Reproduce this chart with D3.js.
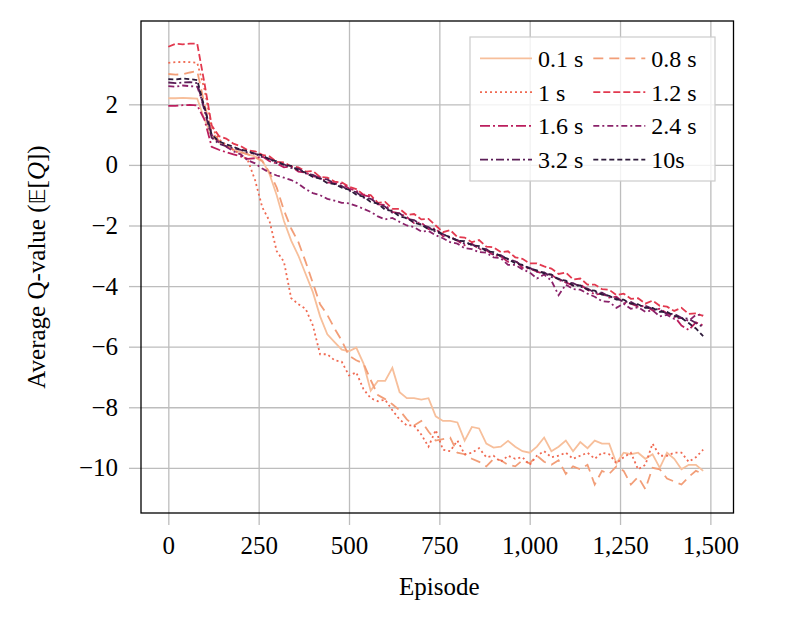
<!DOCTYPE html>
<html>
<head>
<meta charset="utf-8">
<script src="https://cdn.jsdelivr.net/npm/d3@7"></script>
<style>
  body { margin: 0; background: #fff; }
  svg text { font-family: "Liberation Serif", "DejaVu Serif", serif; fill: #000; }
</style>
</head>
<body>
<div id="chart"></div>
<script>
// episodes sampled every 20
const episodes = [
  0, 20, 40, 60, 80, 100, 120, 140, 160, 180, 200, 220, 240, 260, 280,
  300, 320, 340, 360, 380, 400, 420, 440, 460, 480, 500, 520, 540, 560, 580,
  600, 620, 640, 660, 680, 700, 720, 740, 760, 780, 800, 820, 840, 860, 880,
  900, 920, 940, 960, 980, 1000, 1020, 1040, 1060, 1080, 1100, 1120, 1140, 1160, 1180,
  1200, 1220, 1240, 1260, 1280, 1300, 1320, 1340, 1360, 1380, 1400, 1420, 1440, 1460, 1480
];

const seriesNames = ["0.1 s", "0.8 s", "1 s", "1.2 s", "1.6 s", "2.4 s", "3.2 s", "10s"];

const q01 = [
  2.2, 2.2, 2.21, 2.2, 2.19, 1.5, 0.95, 0.75, 0.6, 0.5, 0.42, 0.35, 0.28, 0.15, -0.3,
  -1.0, -1.85, -2.5, -3.0, -3.6, -4.2, -5.0, -5.59, -5.85, -6.1, -6.15, -6.03, -6.55, -7.45, -7.13,
  -7.13, -6.7, -7.5, -7.7, -7.7, -7.75, -7.7, -8.3, -8.45, -8.45, -8.5, -9.1, -8.65, -8.7, -9.2,
  -9.33, -9.3, -9.11, -9.3, -9.45, -9.5, -9.3, -9.0, -9.45, -9.3, -9.1, -9.45, -9.15, -9.35, -9.1,
  -9.2, -9.2, -9.85, -9.5, -9.55, -9.5, -9.7, -9.55, -10.0, -9.5, -9.7, -10.05, -9.9, -9.9, -10.1
];
const q08 = [
  3.0, 2.98, 2.99, 3.05, 3.1, 2.0, 1.1, 0.8, 0.62, 0.5, 0.42, 0.35, 0.25, 0.12, -0.25,
  -0.75, -1.5, -2.1, -2.55, -3.2, -3.9, -4.6, -4.95, -5.4, -5.8, -6.3, -6.45, -6.55, -7.1, -7.6,
  -7.73, -7.9, -8.1, -8.4, -8.6, -8.45, -8.8, -9.1, -9.05, -9.0, -9.5, -9.55, -9.7, -9.8, -9.95,
  -9.7, -9.75, -9.9, -9.95, -9.75, -9.85, -9.6, -9.8, -9.9, -9.75, -10.2, -9.95, -10.05, -9.9, -10.55,
  -10.1, -10.2, -9.95, -10.1, -10.55, -10.3, -10.7, -10.0, -10.05, -10.35, -10.45, -10.55, -10.3, -10.1, -10.2
];
const q1 = [
  3.37, 3.39, 3.4, 3.39, 3.37, 2.5, 1.25, 0.85, 0.65, 0.5, 0.35, 0.15, -0.5, -1.4, -1.85,
  -2.85, -3.2, -4.4, -4.6, -4.75, -5.3, -6.25, -6.25, -6.45, -6.5, -6.95, -6.85, -7.4, -7.7, -7.8,
  -7.75, -8.1, -8.4, -8.6, -8.6, -8.9, -9.3, -8.75, -9.4, -9.45, -9.1, -9.55, -9.5, -9.35, -9.65,
  -9.6, -9.8, -9.6, -9.7, -9.65, -9.9, -9.6, -9.45, -9.65, -9.6, -9.5, -9.7, -9.6, -9.5, -9.7,
  -9.5, -9.55, -9.85, -9.65, -9.5, -10.05, -9.9, -9.2, -9.6, -9.6, -9.5, -9.5, -9.8, -9.65, -9.4
];
const q12 = [
  3.9, 4.0, 3.98, 4.0, 4.0, 2.7, 1.3, 0.95, 0.87, 0.7, 0.62, 0.48, 0.45, 0.33, 0.28,
  0.1, 0.08, -0.05, -0.08, -0.22, -0.2, -0.4, -0.42, -0.55, -0.58, -0.72, -0.8, -0.98, -1.0, -1.25,
  -1.22, -1.45, -1.45, -1.65, -1.62, -1.8, -1.78, -2.0, -2.22, -2.15, -2.38, -2.4, -2.55, -2.48, -2.7,
  -2.72, -2.88, -2.85, -3.05, -3.1, -3.25, -3.25, -3.35, -3.42, -3.6, -3.55, -3.78, -3.75, -3.95, -3.95,
  -4.1, -4.12, -4.3, -4.25, -4.42, -4.4, -4.58, -4.48, -4.65, -4.68, -4.82, -4.72, -4.92, -4.9, -4.98
];
const q16 = [
  1.95, 1.95, 1.97, 1.98, 1.96, 1.5, 0.6, 0.5, 0.42, 0.35, 0.28, 0.2, 0.22, 0.28, 0.12,
  0.05, -0.08, -0.05, -0.22, -0.25, -0.38, -0.4, -0.58, -0.6, -0.62, -0.78, -0.85, -1.0, -1.05, -1.3,
  -1.32, -1.55, -1.6, -1.72, -1.92, -1.9, -2.12, -2.1, -2.35, -2.38, -2.5, -2.65, -2.6, -2.78, -2.82,
  -2.98, -3.02, -3.2, -3.15, -3.4, -3.42, -3.52, -3.6, -3.62, -3.8, -3.88, -3.98, -3.95, -4.12, -4.28,
  -4.25, -4.38, -4.35, -4.55, -4.58, -4.68, -4.65, -4.8, -4.75, -4.9, -5.0, -5.3, -5.45, -5.2, -5.3
];
const q24 = [
  2.6, 2.58, 2.62, 2.6, 2.58, 1.9, 1.0, 0.75, 0.6, 0.45, 0.35, 0.15, 0.05, -0.12, -0.25,
  -0.35, -0.42, -0.5, -0.62, -0.8, -0.93, -1.0, -1.12, -1.18, -1.25, -1.27, -1.35, -1.45, -1.55, -1.7,
  -1.8, -1.75, -1.88, -2.0, -2.05, -2.2, -2.18, -2.32, -2.42, -2.55, -2.6, -2.75, -2.78, -2.88, -2.9,
  -3.05, -3.08, -3.3, -3.3, -3.45, -3.55, -3.75, -3.62, -3.82, -4.3, -3.95, -4.1, -4.12, -4.25, -4.35,
  -4.5, -4.52, -4.72, -4.58, -4.75, -4.7, -4.85, -4.8, -5.0, -4.95, -5.08, -5.05, -5.15, -4.95, -4.95
];
const q32 = [
  2.72, 2.7, 2.72, 2.73, 2.7, 1.8, 0.9, 0.7, 0.62, 0.55, 0.5, 0.4, 0.37, 0.26, 0.2,
  0.06, 0.02, -0.1, -0.12, -0.28, -0.33, -0.45, -0.48, -0.62, -0.7, -0.85, -0.9, -1.08, -1.12, -1.28,
  -1.38, -1.58, -1.6, -1.78, -1.82, -1.98, -2.05, -2.22, -2.28, -2.42, -2.48, -2.6, -2.62, -2.75, -2.78,
  -2.95, -2.98, -3.12, -3.18, -3.32, -3.4, -3.52, -3.55, -3.7, -3.75, -3.88, -3.9, -4.02, -4.08, -4.22,
  -4.22, -4.35, -4.4, -4.52, -4.52, -4.65, -4.65, -4.75, -4.78, -4.92, -4.92, -5.05, -5.08, -5.22, -5.35
];
const q10 = [
  2.83, 2.82, 2.85, 2.83, 2.8, 1.9, 1.0, 0.78, 0.68, 0.6, 0.5, 0.46, 0.36, 0.32, 0.18,
  0.12, 0.0, -0.03, -0.18, -0.25, -0.4, -0.45, -0.6, -0.63, -0.75, -0.82, -0.98, -1.05, -1.22, -1.28,
  -1.48, -1.52, -1.7, -1.75, -1.9, -1.98, -2.12, -2.15, -2.3, -2.38, -2.5, -2.52, -2.65, -2.68, -2.85,
  -2.88, -3.02, -3.1, -3.25, -3.3, -3.42, -3.48, -3.58, -3.62, -3.78, -3.82, -3.98, -3.98, -4.12, -4.15,
  -4.28, -4.32, -4.45, -4.45, -4.58, -4.6, -4.72, -4.72, -4.85, -4.85, -4.98, -5.05, -5.22, -5.4, -5.65
];

const xTicks = [0, 250, 500, 750, 1000, 1250, 1500];
const yTicks = [2, 0, -2, -4, -6, -8, -10];

const seriesValues = [q01, q08, q1, q12, q16, q24, q32, q10];
const colors = ["#f7bf9b", "#f29e78", "#f06a52", "#e2394f", "#bb1e5d", "#8a226a", "#5b1e57", "#2d1a3a"];
const dashes = ["none", "10,6", "2,3", "7,3", "10,3,2,3", "6,3,2,3", "8,3,2,3", "5,3"];

const W = 789, H = 624;
const margin = {left: 141, top: 21, right: 55.5, bottom: 111};
const w = W - margin.left - margin.right, h = H - margin.top - margin.bottom;

const svg = d3.select("#chart").append("svg").attr("width", W).attr("height", H);
const g = svg.append("g").attr("transform", `translate(${margin.left},${margin.top})`);

const x = d3.scaleLinear().domain([-75.6, 1564]).range([0, w]);
const y = d3.scaleLinear().domain([-11.49, 4.75]).range([h, 0]);

const gridColor = "#bdbdbd";
const fs = 25;

// grid
g.append("g").attr("transform", `translate(0,${h})`)
  .call(d3.axisBottom(x).tickValues(xTicks).tickSize(-h).tickFormat(""))
  .call(a => a.select(".domain").remove())
  .call(a => a.selectAll("line").attr("stroke", gridColor).attr("stroke-width", 1.3));
g.append("g")
  .call(d3.axisLeft(y).tickValues(yTicks).tickSize(-w).tickFormat(""))
  .call(a => a.select(".domain").remove())
  .call(a => a.selectAll("line").attr("stroke", gridColor).attr("stroke-width", 1.3));

// outward ticks + labels
g.append("g").attr("transform", `translate(0,${h})`)
  .call(d3.axisBottom(x).tickValues(xTicks).tickSize(12).tickPadding(11).tickFormat(d3.format(",")))
  .call(a => a.select(".domain").remove())
  .call(a => a.selectAll("line").attr("stroke", gridColor).attr("stroke-width", 1.3))
  .call(a => a.selectAll("text").attr("font-size", fs).attr("font-family", "Liberation Serif"));
g.append("g")
  .call(d3.axisLeft(y).tickValues(yTicks).tickSize(12).tickPadding(11))
  .call(a => a.select(".domain").remove())
  .call(a => a.selectAll("line").attr("stroke", gridColor).attr("stroke-width", 1.3))
  .call(a => a.selectAll("text").attr("font-size", fs).attr("font-family", "Liberation Serif"));

// lines
const line = d3.line().x((d, i) => x(episodes[i])).y(d => y(d));
seriesValues.forEach((vals, k) => {
  g.append("path")
    .datum(vals)
    .attr("fill", "none")
    .attr("stroke", colors[k])
    .attr("stroke-width", 1.8)
    .attr("stroke-dasharray", dashes[k])
    .attr("d", line);
});

// frame
g.append("rect").attr("width", w).attr("height", h)
  .attr("fill", "none").attr("stroke", "#000").attr("stroke-width", 1.3);

// legend
const leg = svg.append("g").attr("transform", "translate(470,37)");
leg.append("rect").attr("width", 245).attr("height", 144)
  .attr("fill", "#fff").attr("fill-opacity", 0.8)
  .attr("stroke", "#cccccc").attr("stroke-width", 1.2);
seriesNames.forEach((name, k) => {
  const col = k % 2, row = Math.floor(k / 2);
  const lx = 10 + col * 113.3, ly = 21.3 + row * 33.8;
  leg.append("line")
    .attr("x1", lx).attr("x2", lx + 52).attr("y1", ly).attr("y2", ly)
    .attr("stroke", colors[k]).attr("stroke-width", 1.8)
    .attr("stroke-dasharray", dashes[k]);
  leg.append("text")
    .attr("x", lx + 58).attr("y", ly + 8.5)
    .attr("font-size", 24)
    .text(name);
});

// axis titles
svg.append("text")
  .attr("x", margin.left + x(750)).attr("y", 595)
  .attr("text-anchor", "middle").attr("font-size", fs)
  .text("Episode");

const yl = svg.append("text")
  .attr("transform", `translate(45,${margin.top + h / 2}) rotate(-90)`)
  .attr("text-anchor", "middle").attr("font-size", fs);
yl.append("tspan").text("Average Q-value (");
yl.append("tspan").attr("font-family", "DejaVu Sans").attr("font-size", 22).text("\u{1D53C}");
yl.append("tspan").text("[");
yl.append("tspan").attr("font-style", "italic").text("Q");
yl.append("tspan").text("])");
</script>
</body>
</html>
